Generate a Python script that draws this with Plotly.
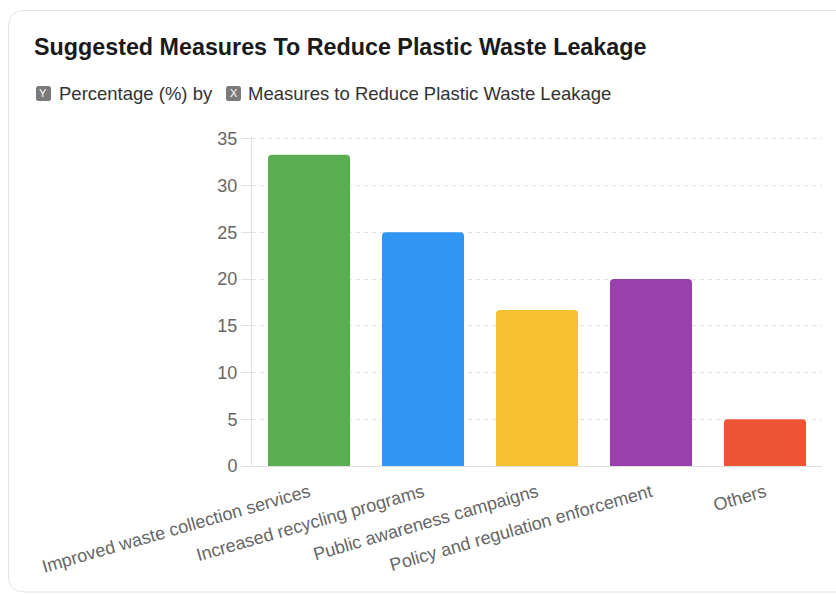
import plotly.graph_objects as go

# Survey results
categories = [
    "Improved waste collection services",
    "Increased recycling programs",
    "Public awareness campaigns",
    "Policy and regulation enforcement",
    "Others",
]
percentages = [33.3, 25.0, 16.7, 20.0, 5.0]
bar_colors = ["#5aae51", "#3196f1", "#f6c032", "#9a3fae", "#eb5533"]
y_ticks = [0, 5, 10, 15, 20, 25, 30, 35]
y_max = 35.2

W, H = 836, 594
L, R, T, B = 252, 14, 137, 128
PW, PH = W - L - R, H - T - B


def px(x):
    return (x - L) / PW


def py(y):
    return (H - B - y) / PH


def rounded_rect(x0, y0, x1, y1, r):
    """SVG path of a rounded rectangle given pixel corners, in paper coords."""
    rx, ry = r / PW, r / PH
    a, b, c, d = px(x0), py(y0), px(x1), py(y1)  # b top, d bottom
    return (
        f"M {a + rx} {b} L {c - rx} {b} Q {c} {b} {c} {b - ry} "
        f"L {c} {d + ry} Q {c} {d} {c - rx} {d} "
        f"L {a + rx} {d} Q {a} {d} {a} {d + ry} "
        f"L {a} {b - ry} Q {a} {b} {a + rx} {b} Z"
    )


fig = go.Figure(
    go.Bar(
        x=categories,
        y=percentages,
        marker=dict(color=bar_colors, cornerradius=4, line=dict(width=0)),
        hovertemplate="%{x}: %{y}%<extra></extra>",
    )
)

font_family = "Helvetica Neue, Helvetica, Arial, Liberation Sans, sans-serif"

shapes = [
    # card outline
    dict(
        type="path",
        path=rounded_rect(8.5, 10.5, 860, 592, 16),
        xref="paper", yref="paper",
        line=dict(color="#e3e3e3", width=1),
        fillcolor="white",
        layer="below",
    ),
]
# axis badges
for bx in (36, 226):
    shapes.append(
        dict(
            type="path",
            path=rounded_rect(bx, 86, bx + 15, 101, 2.5),
            xref="paper", yref="paper",
            line=dict(width=0),
            fillcolor="#7a7a7a",
        )
    )

annotations = [
    dict(
        text="<b>Suggested Measures To Reduce Plastic Waste Leakage</b>",
        x=px(32), y=py(47), xref="paper", yref="paper",
        xanchor="left", yanchor="middle", showarrow=False,
        font=dict(size=23.3, color="#1a1a1a", family=font_family),
    ),
    dict(
        text="Y", x=px(43.5), y=py(93.5), xref="paper", yref="paper",
        xanchor="center", yanchor="middle", showarrow=False,
        font=dict(size=11, color="white", family=font_family),
    ),
    dict(
        text="X", x=px(233.5), y=py(93.5), xref="paper", yref="paper",
        xanchor="center", yanchor="middle", showarrow=False,
        font=dict(size=11, color="white", family=font_family),
    ),
    dict(
        text="Percentage (%) by", x=px(57), y=py(94), xref="paper", yref="paper",
        xanchor="left", yanchor="middle", showarrow=False,
        font=dict(size=18.5, color="#333333", family=font_family),
    ),
    dict(
        text="Measures to Reduce Plastic Waste Leakage", x=px(246), y=py(94),
        xref="paper", yref="paper",
        xanchor="left", yanchor="middle", showarrow=False,
        font=dict(size=18.5, color="#333333", family=font_family),
    ),
]

fig.update_layout(
    width=W, height=H,
    margin=dict(l=L, r=R, t=T, b=B, autoexpand=False),
    paper_bgcolor="white",
    plot_bgcolor="rgba(0,0,0,0)",
    bargap=0.28,
    showlegend=False,
    shapes=shapes,
    annotations=annotations,
    font=dict(family=font_family, color="#666666"),
    xaxis=dict(
        tickangle=-16,
        tickfont=dict(size=18, color="#666666"),
        ticklabelstandoff=8,
        showline=True, linecolor="#e0e0e0", linewidth=1,
        showgrid=False, ticks="",
        fixedrange=True,
    ),
    yaxis=dict(
        range=[0, y_max],
        tickvals=y_ticks,
        tickfont=dict(size=18, color="#666666"),
        showline=True, linecolor="#e0e0e0", linewidth=1,
        showgrid=True, gridcolor="#e2e2e2", griddash="4px,4px", gridwidth=1,
        ticks="outside", ticklen=10, tickcolor="#e0e0e0",
        zeroline=False,
        fixedrange=True,
    ),
)

fig.write_html("out.html")
